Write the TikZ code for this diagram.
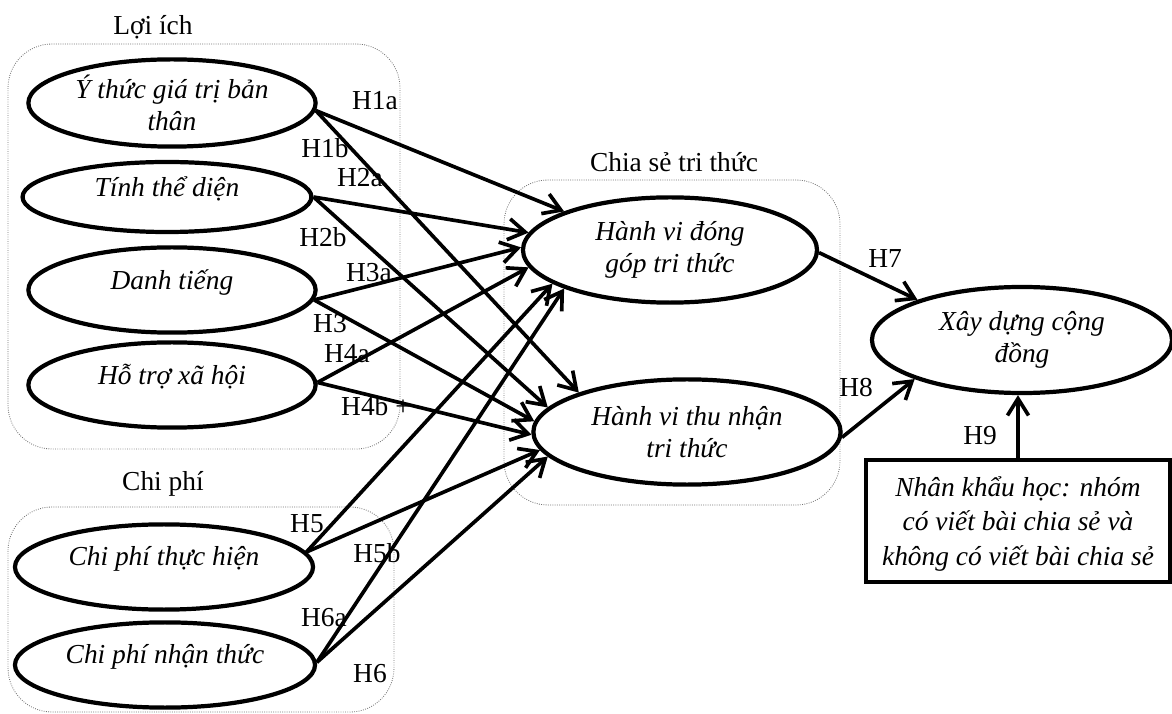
\documentclass[tikz,border=0pt]{standalone}
\usepackage{fontspec}
\setmainfont{Liberation Serif}
\usetikzlibrary{arrows.meta,shapes.geometric}

\begin{document}
\begin{tikzpicture}[x=0.025cm,y=-0.025cm,font=\fontsize{19.5}{23}\selectfont,>={Straight Barb[length=12pt,width=15pt]},
  factor/.style={ellipse,draw,line width=3pt,inner sep=0pt,align=center,font=\fontsize{19.5}{23}\selectfont\itshape},
  upper/.style={text depth=15pt},
  link/.style={->,line width=2.6pt},
  group/.style={draw=black!55,densely dotted,line width=.6pt,rounded corners=1.1cm}]
  \useasboundingbox (0,0) rectangle (1172,714);
  \draw[group] (8,44) rectangle (400,449);
  \draw[group] (8,507) rectangle (394,712);
  \draw[group] (504,180) rectangle (840,505);
  \node (loiich) at (153,27) {Lợi ích};
  \node (chiphi) at (163,484) {Chi phí};
  \node (chiase) at (674,162) {Chia sẻ tri thức};

  \node[factor,minimum width=7.18cm,minimum height=2.18cm] (ythuc) at (172,103) {Ý thức giá trị bản\\thân};
  \node[factor,upper,minimum width=7.22cm,minimum height=1.75cm] (thedien) at (167,197) {Tính thể diện};
  \node[factor,upper,minimum width=7.18cm,minimum height=2.13cm] (danhtieng) at (172,290) {Danh tiếng};
  \node[factor,upper,minimum width=7.18cm,minimum height=2.13cm] (hotro) at (172,385) {Hỗ trợ xã hội};
  \node[factor,upper,minimum width=7.45cm,minimum height=2.13cm] (thuchien) at (164,567) {Chi phí thực hiện};
  \node[factor,upper,minimum width=7.5cm,minimum height=2.13cm] (nhanthuc) at (165,665) {Chi phí nhận thức};
  \node[factor,minimum width=7.35cm,minimum height=2.63cm] (donggop) at (670,250) {Hành vi đóng\\góp tri thức};
  \node[factor,minimum width=7.68cm,minimum height=2.63cm] (thunhan) at (687,432) {Hành vi thu nhận\\tri thức};
  \node[factor,minimum width=7.5cm,minimum height=2.65cm] (congdong) at (1022,340) {Xây dựng cộng\\đồng};
  \node[draw,line width=3.4pt,minimum width=7.6cm,minimum height=3.05cm,align=center,text depth=-4.5pt,font=\fontsize{19.5}{24.5}\selectfont\itshape] (nhankhau) at (1018,521) {Nhân khẩu học: nhóm\\có viết bài chia sẻ và\\không có viết bài chia sẻ};

  \foreach \a/\b in {ythuc.-3/donggop.160,ythuc.-3/thunhan.160,thedien.0/donggop.173,thedien.0/thunhan.170,
    danhtieng.-4/donggop.179,danhtieng.-4/thunhan.176,hotro.1/donggop.187,hotro.1/thunhan.181,
    thuchien.6/donggop.196,thuchien.6/thunhan.187,nhanthuc.1/donggop.200,nhanthuc.1/thunhan.190}
    \draw[link] (\a) -- (\b);
  \draw[link] (donggop.-1) -- (congdong.159);
  \draw[link] (thunhan.-2) -- (congdong.200);
  \draw[link] (nhankhau.north) -- (nhankhau.north |- congdong.south);

  \foreach \t/\x/\y in {H1a/375/101,H1b/325/148,H2a/360/178,H2b/323/237,H3a/369/273,H3/330/324,H4a/347/354,
    H5/307/524,H5b/377/553,H6a/324/618,H6/370/674,H7/885/259,H8/856/388,H9/980/436}
    \node (lab\t) at (\x,\y) {\t};
  \node (labH4b) at (376,406) {H4b +};
\end{tikzpicture}
\end{document}
